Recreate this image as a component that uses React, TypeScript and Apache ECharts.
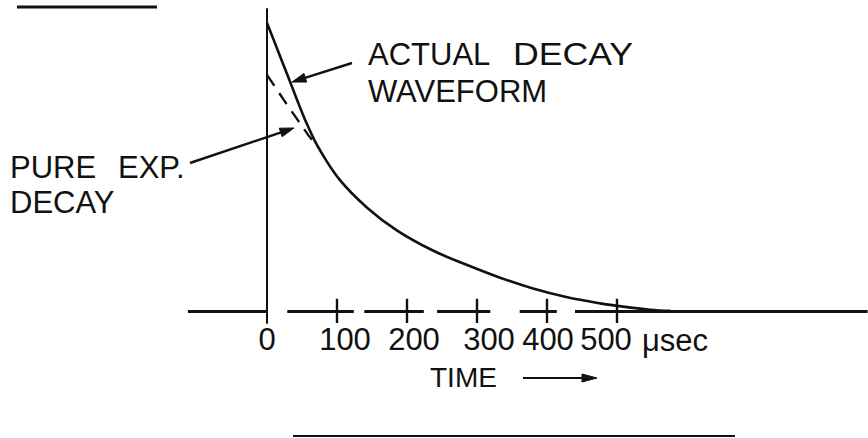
import React, { useEffect, useRef } from "react";
import * as echarts from "echarts";

// ---- data (time in µs, amplitude in arbitrary units, 0..100) ----
const solidTime = [0, 9, 23, 36, 47, 59, 73, 104, 143, 186, 237, 286, 333, 380, 429, 476, 523, 547, 576];
const solidAmp = [95.4, 90.1, 81.8, 74.1, 67.5, 60.9, 54.3, 43.4, 34.2, 26.6, 20.0, 15.2, 11.0, 7.4, 4.5, 2.5, 1.0, 0.4, 0];
const pureTime = [0, 11, 19, 29, 37, 51, 60, 73];
const pureAmp = [78.2, 74.4, 71.6, 68.2, 65.5, 60.9, 57.9, 54.3];
const tickValues = [100, 200, 300, 400, 500];
const labelValues = [0, 100, 200, 300, 400, 500];
// hand-drawn base line is broken into dashes (time ranges)
const axisStart = [-113, 29, 139, 243, 361, 440];
const axisEnd = [1, 124, 224, 319, 414, 858];

const INK = "#111";
const FONT = '"Liberation Sans", Arial, sans-serif';
// small hand-lettering offsets of the tick labels (px)
const labelNudge: Record<number, number> = { 0: 0, 100: 8, 200: 7, 300: 12, 400: 1, 500: -11 };

function arrow(x1: number, y1: number, x2: number, y2: number, len: number, half: number, w: number) {
  const dx = x2 - x1, dy = y2 - y1;
  const L = Math.hypot(dx, dy);
  const ux = dx / L, uy = dy / L;
  const bx = x2 - ux * len, by = y2 - uy * len;
  const px = -uy, py = ux;
  return [
    { type: "line", shape: { x1, y1, x2: bx + ux * 2, y2: by + uy * 2 }, style: { stroke: INK, lineWidth: w } },
    {
      type: "polygon",
      shape: { points: [[x2, y2], [bx + px * half, by + py * half], [bx - px * half, by - py * half]] },
      style: { fill: INK, stroke: INK, lineWidth: 1 },
    },
  ];
}

function txt(text: string, x: number, y: number, size: number, sx = 1) {
  return {
    type: "text",
    x, y, scaleX: sx,
    style: {
      text, x: 0, y: 0,
      font: `${size}px ${FONT}`,
      fill: INK,
      align: "left", verticalAlign: "middle",
      textAlign: "left", textVerticalAlign: "middle",
    },
  };
}

export default function App() {
  const ref = useRef<HTMLDivElement>(null);
  useEffect(() => {
    if (!ref.current) return;
    const chart = echarts.init(ref.current, null, { renderer: "svg" });

    const rich: Record<string, any> = {};
    labelValues.forEach((v) => {
      const n = labelNudge[v] || 0;
      rich["l" + v] = {
        fontSize: 31, fontFamily: FONT, color: INK,
        padding: n >= 0 ? [0, 0, 0, 2 * n] : [0, -2 * n, 0, 0],
      };
    });

    const option: any = {
      animation: false,
      backgroundColor: "#fff",
      grid: { left: 187.9, top: 9, width: 679.7, height: 314, containLabel: false },
      xAxis: {
        type: "value", min: -113, max: 858,
        axisLine: { show: false },
        axisTick: { show: false },
        splitLine: { show: false },
        axisLabel: {
          customValues: labelValues,
          margin: 1,
          fontSize: 31, fontFamily: FONT, color: INK,
          formatter: (v: number) => `{l${v}|${v}}`,
          rich,
        },
      },
      yAxis: {
        type: "value", min: -4, max: 100,
        axisLine: { show: true, onZero: true, lineStyle: { color: INK, width: 2 } },
        axisTick: { show: false },
        axisLabel: { show: false },
        splitLine: { show: false },
      },
      series: [
        {
          name: "Actual decay waveform", type: "line",
          data: solidTime.map((t, i) => [t, solidAmp[i]]),
          smooth: 0.4, symbol: "none",
          lineStyle: { color: INK, width: 2.6 }, z: 5,
        },
        {
          name: "Pure exp. decay", type: "line",
          data: pureTime.map((t, i) => [t, pureAmp[i]]),
          smooth: 0.3, symbol: "none",
          lineStyle: { color: INK, width: 2.4, type: [13, 9] }, z: 4,
        },
        {
          name: "Time axis", type: "lines", coordinateSystem: "cartesian2d", silent: true,
          data: axisStart.map((s, i) => ({ coords: [[s, 0], [axisEnd[i], 0]] })),
          lineStyle: { color: INK, width: 2.8, opacity: 1, curveness: 0 },
          symbol: "none",
        },
        {
          name: "Ticks", type: "lines", coordinateSystem: "cartesian2d", silent: true,
          data: tickValues.map((v) => ({ coords: [[v, -4], [v, 4]] })),
          lineStyle: { color: INK, width: 2.4, opacity: 1, curveness: 0 },
          symbol: "none",
        },
      ],
      graphic: [
        // rules
        { type: "line", shape: { x1: 17, y1: 7, x2: 157, y2: 7 }, style: { stroke: INK, lineWidth: 3 } },
        { type: "line", shape: { x1: 293, y1: 436, x2: 735, y2: 436 }, style: { stroke: INK, lineWidth: 2 } },
        // annotations
        txt("ACTUAL", 368, 54, 31),
        txt("DECAY", 513, 54, 31, 1.15),
        txt("WAVEFORM", 368, 91, 31),
        ...arrow(352, 63, 292, 82, 14, 4.5, 2.5),
        txt("PURE", 10, 167.5, 31),
        txt("EXP.", 118, 167.5, 31),
        txt("DECAY", 10, 202.5, 31),
        ...arrow(190, 163, 294, 128, 14, 4.5, 2.5),
        txt("μsec", 642, 340, 31),
        txt("TIME", 430, 377, 28),
        ...arrow(523, 378, 597, 378, 15, 4, 2.2),
      ],
    };
    chart.setOption(option);
    return () => chart.dispose();
  }, []);
  return (
    <div
      ref={ref}
      style={{ position: "fixed", left: 0, top: 0, width: 868, height: 438, background: "#fff" }}
    />
  );
}
